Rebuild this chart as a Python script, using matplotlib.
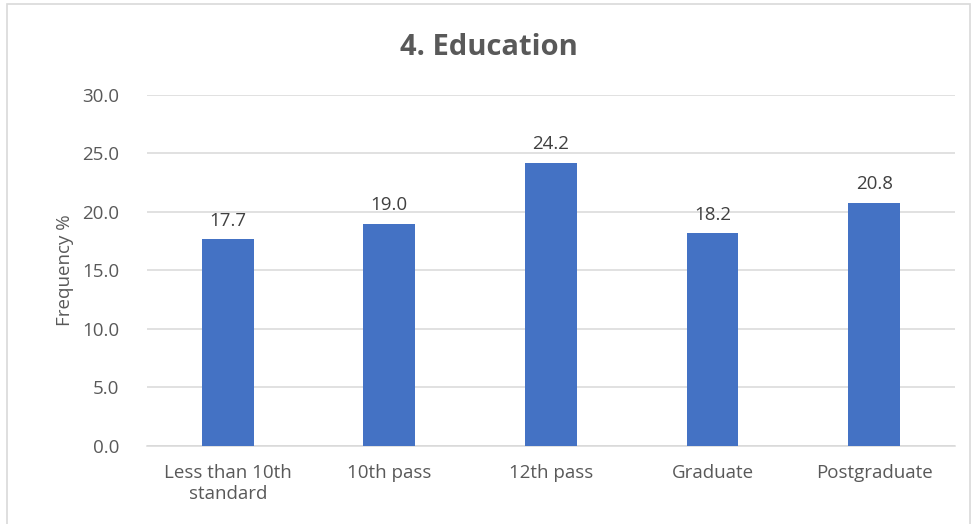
import matplotlib.pyplot as plt
from matplotlib.patches import Rectangle

# Education level distribution (%)
categories = ['Less than 10th\nstandard', '10th pass', '12th pass', 'Graduate', 'Postgraduate']
frequency = [17.7, 19.0, 24.2, 18.2, 20.8]
y_ticks = [0, 5, 10, 15, 20, 25, 30]

plt.rcParams['font.family'] = ['Open Sans', 'DejaVu Sans']

fig = plt.figure(figsize=(9.73, 5.24), dpi=100)
ax = fig.add_axes([0.151, 0.149, 0.8305, 0.6697])

# chart frame (bottom edge runs off the image)
fig.patches.append(Rectangle((0.007, -0.05), 0.99, 1.042, transform=fig.transFigure,
                             fill=False, edgecolor='#d9d9d9', linewidth=1.2))

x = range(len(categories))
bars = ax.bar(x, frequency, width=0.32, color='#4472C4', zorder=3)
for b, v in zip(bars, frequency):
    ax.text(b.get_x() + b.get_width() / 2, v + 0.8, f'{v:.1f}',
            ha='center', va='bottom', fontsize=13.5, color='#404040')

ax.set_xlim(-0.5, len(categories) - 0.5)
ax.set_ylim(0, 30)
ax.set_yticks(y_ticks)
ax.set_yticklabels([f'{t:.1f}' for t in y_ticks])
ax.set_xticks(list(x))
ax.set_xticklabels(categories, linespacing=1.25)
ax.tick_params(length=0, labelsize=13.5, labelcolor='#595959')
ax.tick_params(axis='x', pad=13)
ax.tick_params(axis='y', pad=20)
ax.grid(axis='y', color='#d9d9d9', linewidth=1.1, zorder=0)
for s in ['top', 'right', 'left']:
    ax.spines[s].set_visible(False)
ax.spines['bottom'].set_color('#d9d9d9')
ax.spines['bottom'].set_linewidth(1.1)

ax.set_ylabel('Frequency %', fontsize=13.5, color='#595959', labelpad=6)
fig.text(0.503, 0.91, '4. Education', ha='center', va='center',
         fontsize=21, fontweight='bold', color='#595959')

fig.savefig('out.png', dpi=100)
